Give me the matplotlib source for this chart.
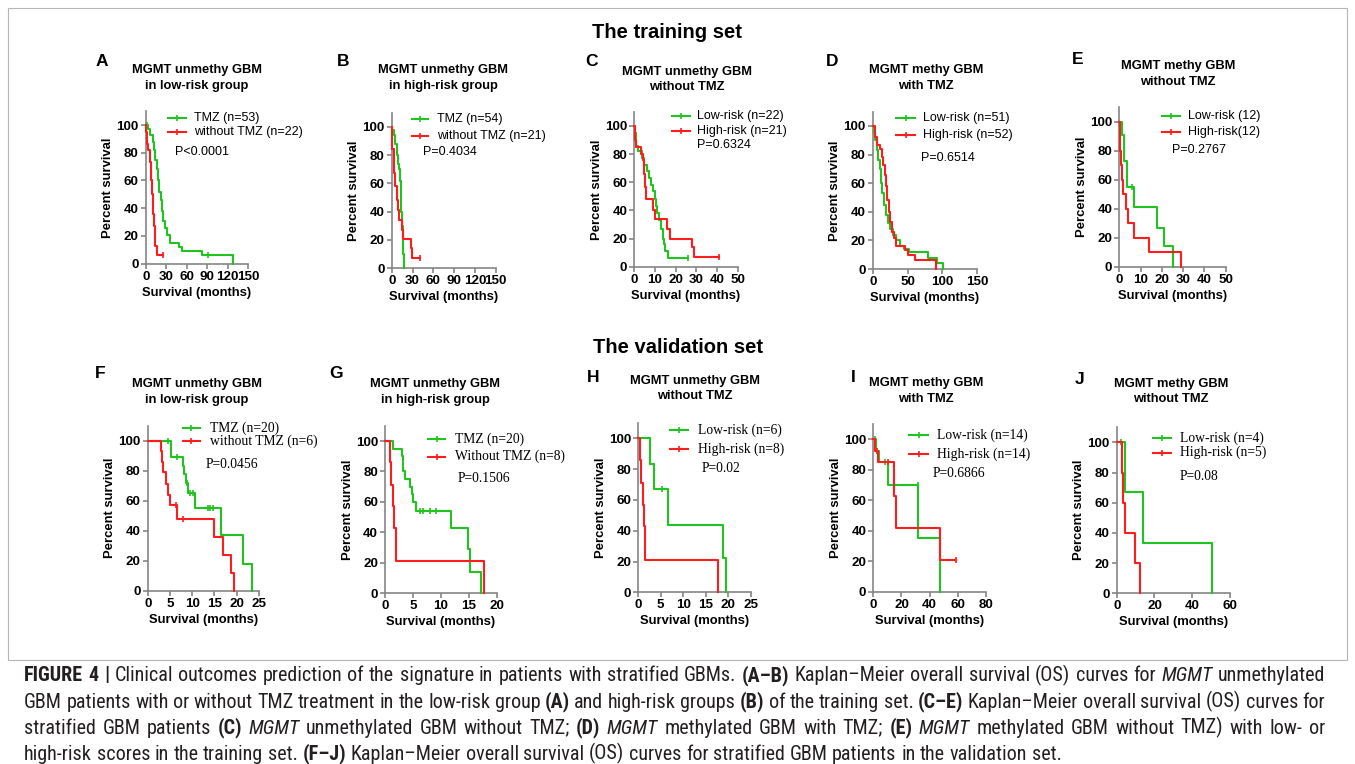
import matplotlib
matplotlib.use('Agg')
import matplotlib.pyplot as plt
from matplotlib.lines import Line2D
from matplotlib.patches import Rectangle
from matplotlib import font_manager as fm

# ---------------- data ----------------
# each series: event times (months), survival (%) after each event, censor times
A_tmz_t = [4, 7, 10, 12, 14, 16, 18, 20, 22, 24, 26, 28, 31, 35, 49, 53, 83, 128]
A_tmz_s = [97, 93, 88, 82, 75, 68, 60, 52, 46, 38, 31, 26, 21, 15, 12, 9, 6, 0]
A_tmz_c = [2, 92]
A_no_t = [1, 2, 4, 6, 8, 9, 10, 11, 12, 13, 14, 16]
A_no_s = [95, 86, 82, 73, 60, 50, 45, 36, 27, 18, 13, 6]
A_no_c = [26]

B_tmz_t = [1, 3, 5, 7, 9, 11, 12, 13, 14, 15, 16, 17, 18]
B_tmz_s = [98, 94, 88, 80, 74, 70, 62, 52, 40, 30, 20, 10, 0]
B_tmz_c = []
B_no_t = [1, 3, 4, 5, 7, 9, 10, 15, 17, 28, 29]
B_no_s = [84, 80, 67, 58, 48, 41, 34, 27, 21, 14, 7]
B_no_c = [41]

C_low_t = [0.5, 1, 2, 3.5, 4.5, 6, 7, 8, 9, 10, 10.5, 11, 12, 13, 14, 14.5, 15, 16.5]
C_low_s = [95, 86, 82, 77, 72, 68, 63, 58, 54, 48, 43, 38, 33, 27, 20, 16, 11, 6]
C_low_c = [26]
C_high_t = [0.3, 1, 3, 4, 4.5, 5, 5.5, 9, 10, 16, 17.5, 28, 29]
C_high_s = [90, 85, 80, 76, 66, 57, 48, 40, 34, 27, 20, 14, 7]
C_high_c = [41]

D_low_t = [2, 4, 6, 8, 10, 12, 14, 16, 19, 22, 25, 29, 34, 39, 45, 52, 80, 92, 101]
D_low_s = [95, 90, 83, 76, 70, 60, 53, 45, 38, 32, 28, 24, 20, 16, 14, 12, 8, 4, 0]
D_low_c = []
D_high_t = [3, 6, 10, 13, 15, 17, 19, 21, 23, 25, 28, 31, 34, 46, 51, 60, 91]
D_high_s = [92, 87, 84, 78, 73, 66, 58, 48, 40, 33, 26, 22, 16, 13, 10, 6, 0]
D_high_c = []

E_low_t = [1.1, 2.2, 3.4, 6.9, 17.5, 21, 25.4]
E_low_s = [91, 73, 55, 41, 27, 14, 0]
E_low_c = [6.2]
E_high_t = [0.3, 0.8, 1.2, 1.9, 3, 3.9, 6.9, 14.1, 28.8]
E_high_s = [80, 70, 60, 50, 40, 30, 20, 10, 0]
E_high_c = []

F_tmz_t = [5.2, 8, 8.2, 8.6, 9.1, 10.6, 16.5, 21.5, 23.4]
F_tmz_s = [89, 83, 78, 72, 65, 55, 37, 18, 0]
F_tmz_c = [4.5, 6.5, 8.9, 9.5, 10.1, 13.5, 14.0, 14.6]
F_no_t = [2.9, 3.2, 3.5, 4.0, 4.6, 5.0, 6.6, 14.8, 17.0, 18.6, 19.3]
F_no_s = [93, 86, 79, 71, 64, 57, 48, 36, 24, 12, 0]
F_no_c = [6.3, 7.9]

G_tmz_t = [1.5, 3.1, 3.3, 3.6, 4.5, 4.8, 5.1, 5.5, 11.9, 14.9, 15.2, 17.2]
G_tmz_s = [95, 90, 80, 75, 70, 65, 60, 54, 43, 29, 14, 0]
G_tmz_c = [6.3, 6.8, 8.0, 9.1]
G_no_t = [0.9, 1.1, 1.4, 1.7, 2.0, 17.7]
G_no_s = [86, 71, 57, 43, 21, 0]
G_no_c = []

H_low_t = [2.6, 3.6, 6.5, 18.9, 19.5]
H_low_s = [83, 67, 44, 22, 0]
H_low_c = [5.2]
H_high_t = [0.4, 0.7, 1.0, 1.3, 1.5, 17.7]
H_high_s = [86, 71, 57, 43, 21, 0]
H_high_c = []

I_low_t = [2, 4.3, 10.7, 32, 47.3]
I_low_s = [92, 85, 70, 35, 0]
I_low_c = [1.5, 8.3, 31.5]
I_high_t = [1.2, 3.5, 15, 15.9, 47.3]
I_high_s = [92, 85, 63, 42, 21]
I_high_c = [2.4, 10.6, 58.7]

J_low_t = [4.4, 14.1, 50.3]
J_low_s = [67, 33, 0]
J_low_c = [2.1]
J_high_t = [2.6, 3.5, 4.4, 9.7, 12.3]
J_high_s = [80, 60, 40, 20, 0]
J_high_c = []

letters = ['A', 'B', 'C', 'D', 'E', 'F', 'G', 'H', 'I', 'J']
titles = [('MGMT unmethy GBM', 'in low-risk group'), ('MGMT unmethy GBM', 'in high-risk group'),
          ('MGMT unmethy GBM', 'without TMZ'), ('MGMT methy GBM', 'with TMZ'), ('MGMT methy GBM', 'without TMZ'),
          ('MGMT unmethy GBM', 'in low-risk group'), ('MGMT unmethy GBM', 'in high-risk group'),
          ('MGMT unmethy GBM', 'without TMZ'), ('MGMT methy GBM', 'with TMZ'), ('MGMT methy GBM', 'without TMZ')]
legend_labels = [('TMZ (n=53)', 'without TMZ (n=22)'), ('TMZ (n=54)', 'without TMZ (n=21)'),
                 ('Low-risk (n=22)', 'High-risk (n=21)'), ('Low-risk (n=51)', 'High-risk (n=52)'),
                 ('Low-risk (12)', 'High-risk(12)'),
                 ('TMZ (n=20)', 'without TMZ (n=6)'), ('TMZ (n=20)', 'Without TMZ (n=8)'),
                 ('Low-risk (n=6)', 'High-risk (n=8)'), ('Low-risk (n=14)', 'High-risk (n=14)'),
                 ('Low-risk (n=4)', 'High-risk (n=5)')]
p_values = ['P<0.0001', 'P=0.4034', 'P=0.6324', 'P=0.6514', 'P=0.2767',
            'P=0.0456', 'P=0.1506', 'P=0.02', 'P=0.6866', 'P=0.08']
x_ticks = [[0, 30, 60, 90, 120, 150], [0, 30, 60, 90, 120, 150], [0, 10, 20, 30, 40, 50],
           [0, 50, 100, 150], [0, 10, 20, 30, 40, 50], [0, 5, 10, 15, 20, 25],
           [0, 5, 10, 15, 20], [0, 5, 10, 15, 20, 25], [0, 20, 40, 60, 80], [0, 20, 40, 60]]
y_ticks = [0, 20, 40, 60, 80, 100]

series = [((A_tmz_t, A_tmz_s, A_tmz_c), (A_no_t, A_no_s, A_no_c)),
          ((B_tmz_t, B_tmz_s, B_tmz_c), (B_no_t, B_no_s, B_no_c)),
          ((C_low_t, C_low_s, C_low_c), (C_high_t, C_high_s, C_high_c)),
          ((D_low_t, D_low_s, D_low_c), (D_high_t, D_high_s, D_high_c)),
          ((E_low_t, E_low_s, E_low_c), (E_high_t, E_high_s, E_high_c)),
          ((F_tmz_t, F_tmz_s, F_tmz_c), (F_no_t, F_no_s, F_no_c)),
          ((G_tmz_t, G_tmz_s, G_tmz_c), (G_no_t, G_no_s, G_no_c)),
          ((H_low_t, H_low_s, H_low_c), (H_high_t, H_high_s, H_high_c)),
          ((I_low_t, I_low_s, I_low_c), (I_high_t, I_high_s, I_high_c)),
          ((J_low_t, J_low_s, J_low_c), (J_high_t, J_high_s, J_high_c))]

# ---------------- layout (pixels) ----------------
W, H = 1355, 764
# x of 0, x of xmax, y of 0, y of 100
geom = [(145.7, 248.0, 263.7, 125.0), (391.7, 495.7, 268.3, 126.7), (634.3, 737.7, 266.7, 126.0),
        (872.7, 977.3, 269.0, 126.0), (1119.3, 1225.7, 266.7, 121.7),
        (147.7, 259.0, 590.7, 440.7), (385.0, 496.7, 593.3, 441.0), (638.3, 750.7, 592.3, 438.3),
        (873.3, 986.0, 591.7, 439.3), (1116.7, 1230.0, 593.3, 442.3)]
letter_pos = [(102, 61), (343, 61), (592, 61), (832, 61), (1078, 60),
              (100, 373), (336, 373), (593, 377), (853, 377), (1080, 379)]
# centre x, line-1 y, line-2 y
title_pos = [(197, 70.5, 86), (443, 70.5, 86), (687, 71.5, 87), (926, 70.5, 86), (1178, 66.5, 82),
             (197, 384, 399.5), (435, 384, 399.5), (695, 380.5, 396), (926, 383, 398.5), (1171, 384, 399.5)]
# handle x0, x1, row1 y, row2 y, text x, P x, P y
leg_pos = [(168, 186, 118.3, 131.5, 194.3, 175, 151.7),
           (411.7, 428.3, 119.3, 136, 436.7, 422.7, 151.7),
           (671.7, 690, 115.7, 131, 696.7, 696.7, 145),
           (896, 915, 118.3, 135, 923.3, 920.7, 158.3),
           (1161.7, 1180, 115.7, 131.7, 1188.3, 1171.7, 150),
           (182.7, 200, 428.3, 441, 210, 206, 465),
           (428.3, 445, 439, 456.7, 455, 457.7, 478.3),
           (670, 688.3, 430, 449.3, 698.3, 701.7, 468.3),
           (909.3, 928.3, 435, 454.3, 936.7, 932.7, 473.3),
           (1152.7, 1171, 438.3, 452.7, 1180, 1180, 476.7)]

GREEN = '#1fc41f'
RED = '#ff1c1c'
AXC = '#858585'
SANS = 'Liberation Sans'
SERIF = 'Liberation Serif'

fig = plt.figure(figsize=(W / 100, H / 100), dpi=100)
fig.patch.set_facecolor('white')


def fx(x):
    return x / W


def fy(y):
    return 1 - y / H


def km(ax, t, s, c, color):
    x = [0] + list(t)
    y = [100] + list(s)
    end = max(c) if c else 0
    if end > x[-1]:
        x.append(end)
        y.append(y[-1])
    ax.step(x, y, where='post', color=color, lw=1.5, clip_on=False, zorder=3)
    if c:
        cy = []
        for ci in c:
            v = 100
            for ti, si in zip(t, s):
                if ti <= ci:
                    v = si
            cy.append(v)
        ax.plot(c, cy, ls='none', marker='|', ms=5, mew=1.2, color=color, clip_on=False, zorder=3)


# frame
fig.add_artist(Rectangle((fx(8), fy(660)), fx(1339), 652 / H, transform=fig.transFigure,
                         fill=False, ec='#b5b5b5', lw=0.8))

fig.text(fx(667), fy(33), 'The training set', ha='center', va='center', fontsize=14.5,
         fontweight='bold', family=SANS)
fig.text(fx(678), fy(347), 'The validation set', ha='center', va='center', fontsize=14.5,
         fontweight='bold', family=SANS)

for i in range(10):
    xl, xr, y0, y100 = geom[i]
    ytop = y0 - 1.1 * (y0 - y100)
    ax = fig.add_axes([fx(xl), fy(y0), (xr - xl) / W, (y0 - ytop) / H])
    ax.set_xlim(0, x_ticks[i][-1])
    ax.set_ylim(0, 110)
    for sp in ['top', 'right']:
        ax.spines[sp].set_visible(False)
    for sp in ['left', 'bottom']:
        ax.spines[sp].set_color(AXC)
        ax.spines[sp].set_linewidth(1.2)
    ax.set_xticks(x_ticks[i])
    ax.set_yticks(y_ticks)
    ax.tick_params(axis='both', color=AXC, width=1.2, length=3.5, pad=1.5, labelsize=9.6)
    for lab in ax.get_xticklabels() + ax.get_yticklabels():
        lab.set_fontweight('bold')
        lab.set_family(SANS)
    ax.set_xlabel('Survival (months)', fontsize=9.4, fontweight='bold', family=SANS, labelpad=3)
    ax.set_ylabel('Percent survival', fontsize=9.4, fontweight='bold', family=SANS, labelpad=1.5)
    (g, r) = series[i]
    km(ax, *g, GREEN)
    km(ax, *r, RED)

    # letter and title
    lx, ly = letter_pos[i]
    fig.text(fx(lx), fy(ly), letters[i], ha='center', va='center', fontsize=12.5,
             fontweight='bold', family=SANS)
    tx, ty1, ty2 = title_pos[i]
    fig.text(fx(tx), fy(ty1), titles[i][0], ha='center', va='center', fontsize=9.3,
             fontweight='bold', family=SANS)
    fig.text(fx(tx), fy(ty2), titles[i][1], ha='center', va='center', fontsize=9.3,
             fontweight='bold', family=SANS)

    # legend
    hx0, hx1, r1, r2, txx, px, py = leg_pos[i]
    fam = SANS if i < 5 else SERIF
    fs = 9.0 if i < 5 else 9.8
    for yy, col, lab in [(r1, GREEN, legend_labels[i][0]), (r2, RED, legend_labels[i][1])]:
        fig.add_artist(Line2D([fx(hx0), fx((hx0 + hx1) / 2), fx(hx1)], [fy(yy)] * 3,
                              transform=fig.transFigure, color=col, lw=1.5,
                              marker='|', markevery=[1], ms=5, mew=1.2))
        fig.text(fx(txx), fy(yy), lab, ha='left', va='center', fontsize=fs, family=fam)
    fig.text(fx(px), fy(py), p_values[i], ha='left', va='center', fontsize=fs, family=fam)

# ---------------- caption ----------------
fonts = {}
for f in fm.fontManager.ttflist:
    fonts.setdefault(f.name, set()).add(f.stretch)
CAPF, CAPSTRETCH = SANS, 'normal'
for cand in ['Liberation Sans Narrow', 'Roboto Condensed', 'Open Sans Condensed', 'Noto Sans Condensed']:
    if cand in fonts:
        CAPF = cand
        break
else:
    for nm, st in fonts.items():
        if nm in ('Roboto', 'Noto Sans', 'Open Sans', 'DejaVu Sans') and any(
                str(x) in ('condensed', 'semi-condensed', '75', '87.5', 'narrow') for x in st):
            CAPF = nm
            CAPSTRETCH = 'condensed'
            break
CAPC = '#231f20'

# (segments, justified, baseline y)
cap_lines = [
    ([("FIGURE 4 |", 'b'), ("Clinical outcomes prediction of the signature in patients with stratified GBMs.", 'n'),
      ("(A–B)", 'b'), ("Kaplan–Meier overall survival (OS) curves for", 'n'), ("MGMT", 'i'),
      ("unmethylated", 'n')], True, 681),
    ([("GBM patients with or without TMZ treatment in the low-risk group", 'n'), ("(A)", 'b'),
      ("and high-risk groups", 'n'), ("(B)", 'b'), ("of the training set.", 'n'), ("(C–E)", 'b'),
      ("Kaplan–Meier overall survival (OS) curves for", 'n')], True, 707.5),
    ([("stratified GBM patients", 'n'), ("(C)", 'b'), ("MGMT", 'i'), ("unmethylated GBM without TMZ;", 'n'),
      ("(D)", 'b'), ("MGMT", 'i'), ("methylated GBM with TMZ;", 'n'), ("(E)", 'b'), ("MGMT", 'i'),
      ("methylated GBM without TMZ) with low- or", 'n')], True, 733.5),
    ([("high-risk scores in the training set.", 'n'), ("(F–J)", 'b'),
      ("Kaplan–Meier overall survival (OS) curves for stratified GBM patients in the validation set.", 'n')],
     False, 759.5),
]

renderer = fig.canvas.get_renderer()


def style_kw(st, size):
    kw = dict(fontsize=size, family=CAPF, color=CAPC, va='baseline', ha='left', fontstretch=CAPSTRETCH)
    if st == 'b':
        kw['fontweight'] = 'bold'
    if st == 'i':
        kw['fontstyle'] = 'italic'
    return kw


def measure(word, st, size):
    t = fig.text(0, 0, word, **style_kw(st, size))
    w = t.get_window_extent(renderer).width
    t.remove()
    return w


def line_words(segs):
    out = []
    for txt, st in segs:
        for w in txt.split(' '):
            out.append((w, st))
    return out


# fit font size so the first line is ~1300 px wide
base = 10.0
words0 = line_words(cap_lines[0][0])
sp0 = measure('a a', 'n', base) - measure('aa', 'n', base)
nat = sum(measure(w, st, base) for w, st in words0) + sp0 * (len(words0) - 1)
cap_size = min(base * 1292 / nat, 14.5)

X0, X1 = 24, 1325
for segs, justify, yy in cap_lines:
    words = line_words(segs)
    widths = [measure(w, st, cap_size) for w, st in words]
    sp = measure('a a', 'n', cap_size) - measure('aa', 'n', cap_size)
    if justify:
        sp = (X1 - X0 - sum(widths)) / (len(words) - 1)
    x = X0
    for (w, st), wd in zip(words, widths):
        fig.text(fx(x), fy(yy), w, **style_kw(st, cap_size))
        x += wd + sp

fig.savefig('out.png', dpi=100, facecolor='white')
